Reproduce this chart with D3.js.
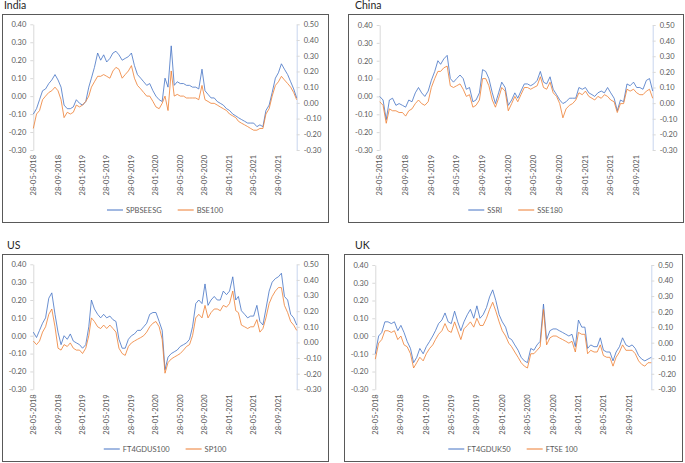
<!DOCTYPE html>
<html><head><meta charset="utf-8">
<script src="https://cdn.jsdelivr.net/npm/d3@7"></script>
<style>body{margin:0;background:#fff}svg{display:block}</style>
</head><body><svg id="c" width="685" height="463"></svg>
<script>
const dates = ["2018-05-28","2018-06-13","2018-06-28","2018-07-13","2018-07-28","2018-08-13","2018-08-28","2018-09-13","2018-09-28","2018-10-13",
"2018-10-28","2018-11-13","2018-11-28","2018-12-13","2018-12-28","2019-01-13","2019-01-28","2019-02-13","2019-02-28","2019-03-13",
"2019-03-28","2019-04-13","2019-04-28","2019-05-13","2019-05-28","2019-06-13","2019-06-28","2019-07-13","2019-07-28","2019-08-13",
"2019-08-28","2019-09-13","2019-09-28","2019-10-13","2019-10-28","2019-11-13","2019-11-28","2019-12-13","2019-12-28","2020-01-13",
"2020-01-28","2020-02-13","2020-02-28","2020-03-13","2020-03-28","2020-04-13","2020-04-28","2020-05-13","2020-05-28","2020-06-13",
"2020-06-28","2020-07-13","2020-07-28","2020-08-13","2020-08-28","2020-09-13","2020-09-28","2020-10-13","2020-10-28","2020-11-13",
"2020-11-28","2020-12-13","2020-12-28","2021-01-13","2021-01-28","2021-02-13","2021-02-28","2021-03-13","2021-03-28","2021-04-13",
"2021-04-28","2021-05-13","2021-05-28","2021-06-13","2021-06-28","2021-07-13","2021-07-28","2021-08-13","2021-08-28","2021-09-13",
"2021-09-28","2021-10-13","2021-10-28","2021-11-13","2021-11-28","2021-12-13","2021-12-28","2022-01-13"];

const dateTickLabels = ["28-05-2018","28-09-2018","28-01-2019","28-05-2019","28-09-2019","28-01-2020","28-05-2020","28-09-2020","28-01-2021","28-05-2021","28-09-2021"];
const leftTicks = [-0.3,-0.2,-0.1,0,0.1,0.2,0.3,0.4];
const rightTicks = [-0.3,-0.2,-0.1,0,0.1,0.2,0.3,0.4,0.5];

// India: SPBSEESG (left axis), BSE100 (right axis)
const indiaBlue = [-0.10,-0.07,-0.02,0.03,0.04,0.07,0.09,0.12,0.09,0.05,
-0.05,-0.07,-0.07,-0.06,-0.02,-0.04,-0.05,-0.03,0.05,0.10,
0.16,0.24,0.20,0.23,0.19,0.21,0.24,0.25,0.23,0.20,
0.21,0.22,0.24,0.17,0.12,0.10,0.08,0.06,0.07,0.03,
0.00,-0.02,-0.03,0.10,0.05,0.28,0.06,0.08,0.07,0.07,
0.06,0.06,0.05,0.05,0.04,0.15,0.03,0.01,-0.01,-0.01,
-0.03,-0.04,-0.05,-0.07,-0.08,-0.10,-0.11,-0.12,-0.13,-0.14,
-0.15,-0.15,-0.15,-0.17,-0.16,-0.17,-0.08,-0.05,0.02,0.10,
0.13,0.18,0.15,0.12,0.08,0.04,-0.01];
const indiaOrange = [-0.163,-0.071,-0.049,0.020,0.043,0.066,0.077,0.100,0.077,0.020,
-0.094,-0.060,-0.071,-0.060,-0.014,-0.026,-0.014,0.009,0.043,0.100,
0.134,0.169,0.169,0.180,0.169,0.157,0.203,0.226,0.214,0.157,
0.180,0.203,0.237,0.157,0.111,0.089,0.066,0.043,0.043,0.009,
-0.026,-0.037,-0.003,0.043,-0.049,0.203,0.043,0.054,0.043,0.043,
0.031,0.031,0.031,0.031,0.020,0.111,0.020,0.009,-0.003,-0.003,
-0.014,-0.026,-0.037,-0.049,-0.071,-0.083,-0.094,-0.117,-0.129,-0.140,
-0.151,-0.163,-0.174,-0.174,-0.163,-0.163,-0.071,-0.037,0.043,0.111,
0.134,0.169,0.146,0.123,0.100,0.066,0.020];

// China: SSRI (left axis), SSE180 (right axis)
const chinaBlue = [0.00,-0.02,-0.13,-0.02,-0.01,-0.05,-0.04,-0.05,-0.06,-0.02,
-0.03,0.02,0.05,0.02,0.00,0.03,0.09,0.14,0.20,0.18,
0.21,0.23,0.10,0.08,0.10,0.12,0.10,0.04,0.05,-0.03,
-0.02,0.02,0.15,0.14,0.10,0.02,-0.04,0.02,0.08,0.05,
-0.05,-0.02,0.02,-0.01,0.03,0.07,0.07,0.06,0.07,0.09,
0.14,0.08,0.07,0.11,0.04,0.01,-0.02,-0.04,-0.03,-0.01,
-0.01,-0.01,0.05,0.04,0.05,0.02,0.01,0.00,0.02,0.03,
0.02,0.05,0.02,-0.01,-0.08,-0.02,-0.03,0.07,0.06,0.08,
0.05,0.05,0.04,0.09,0.10,0.03];
const chinaOrange = [0.009,-0.014,-0.129,-0.037,-0.049,-0.049,-0.060,-0.060,-0.083,-0.049,
-0.037,-0.003,0.020,-0.003,-0.014,0.009,0.100,0.157,0.203,0.203,
0.226,0.237,0.111,0.100,0.111,0.123,0.089,0.043,0.054,-0.026,
-0.014,0.020,0.157,0.157,0.111,0.020,-0.026,0.031,0.100,0.077,
-0.049,-0.003,0.043,0.009,0.054,0.100,0.100,0.089,0.100,0.111,
0.169,0.100,0.089,0.134,0.066,0.043,-0.003,-0.094,-0.037,-0.014,
-0.003,0.020,0.066,0.054,0.077,0.043,0.031,0.020,0.043,0.031,
0.054,0.043,0.020,0.009,-0.060,-0.003,-0.003,0.089,0.077,0.089,
0.066,0.054,0.054,0.077,0.089,0.031];

// US: FT4GDUS100 (left axis), SP100 (right axis)
const usBlue = [0.02,-0.01,0.03,0.07,0.10,0.21,0.24,0.12,0.02,-0.05,
0.00,-0.02,0.01,-0.03,-0.04,-0.05,-0.07,-0.05,0.05,0.20,
0.15,0.12,0.10,0.12,0.10,0.11,0.09,0.08,-0.02,-0.07,
-0.07,-0.02,0.00,0.01,0.03,0.03,0.05,0.07,0.12,0.13,
0.13,0.08,0.03,-0.19,-0.12,-0.10,-0.09,-0.08,-0.06,-0.05,
-0.04,-0.02,0.05,0.18,0.20,0.18,0.29,0.17,0.20,0.22,
0.20,0.20,0.25,0.23,0.25,0.33,0.20,0.22,0.14,0.12,
0.10,0.11,0.11,0.17,0.08,0.06,0.15,0.25,0.30,0.32,
0.33,0.35,0.22,0.20,0.12,0.10,0.06];
const usOrange = [0.009,-0.014,0.009,0.066,0.100,0.180,0.214,0.100,-0.037,-0.049,
-0.014,-0.026,-0.003,-0.037,-0.049,-0.049,-0.071,-0.037,0.043,0.157,
0.134,0.100,0.089,0.111,0.089,0.111,0.089,0.066,-0.037,-0.071,
-0.083,-0.026,-0.003,0.009,0.020,0.031,0.043,0.066,0.100,0.123,
0.134,0.100,0.020,-0.197,-0.129,-0.106,-0.094,-0.083,-0.071,-0.049,
-0.026,-0.014,0.043,0.157,0.180,0.157,0.237,0.157,0.191,0.214,
0.214,0.203,0.237,0.226,0.249,0.329,0.203,0.191,0.111,0.100,
0.089,0.100,0.100,0.146,0.066,0.089,0.157,0.249,0.294,0.329,
0.351,0.351,0.237,0.191,0.134,0.111,0.077];

// UK: FT4GDUK50 (left axis), FTSE 100 (right axis)
const ukBlue = [-0.10,0.00,0.02,0.08,0.08,0.07,0.08,0.03,0.06,0.02,
-0.03,-0.07,-0.15,-0.12,-0.07,-0.10,-0.06,-0.03,0.00,0.03,
0.07,0.09,0.13,0.08,0.07,0.14,0.08,0.03,0.08,0.12,
0.15,0.10,0.17,0.10,0.12,0.16,0.22,0.26,0.20,0.12,
0.08,0.05,-0.01,-0.02,-0.05,-0.08,-0.12,-0.14,-0.15,-0.07,
-0.08,-0.05,-0.03,0.18,-0.02,0.03,0.04,0.04,0.03,0.02,
0.01,0.00,0.01,-0.06,0.09,0.05,0.05,-0.07,-0.05,-0.06,
-0.06,-0.01,-0.08,-0.09,-0.09,-0.14,-0.09,-0.06,-0.01,-0.05,
-0.06,-0.05,-0.07,-0.11,-0.13,-0.14,-0.13,-0.12];
const ukOrange = [-0.106,-0.003,0.020,0.077,0.077,0.066,0.077,0.020,0.043,-0.014,
-0.026,-0.071,-0.163,-0.129,-0.094,-0.117,-0.071,-0.037,-0.014,0.020,
0.054,0.077,0.123,0.077,0.066,0.134,0.077,0.020,0.089,0.111,
0.134,0.100,0.157,0.111,0.111,0.157,0.214,0.260,0.203,0.134,
0.077,0.043,-0.003,-0.026,-0.060,-0.094,-0.129,-0.151,-0.163,-0.071,
-0.071,-0.049,-0.026,0.214,-0.014,0.031,0.043,0.043,0.031,0.020,
0.009,-0.003,0.009,-0.060,0.066,0.054,0.054,-0.071,-0.049,-0.060,
-0.060,-0.014,-0.083,-0.094,-0.094,-0.151,-0.094,-0.060,-0.014,-0.049,
-0.049,-0.049,-0.071,-0.117,-0.140,-0.151,-0.129,-0.129];

const BLUE = "#4472C4", ORANGE = "#ED7D31";
const FONT = "Lato, 'Liberation Sans', sans-serif";
const parse = d3.timeParse("%Y-%m-%d");
const parseTick = d3.timeParse("%d-%m-%Y");

const panels = [
  {title:"India", names:["SPBSEESG","BSE100"], s1:indiaBlue, s2:indiaOrange,
   tx:4, ty:9, box:[2,14,328,222], l:33.3, r:296.7, t:24.3, b:150, ly:210},
  {title:"China", names:["SSRI","SSE180"], s1:chinaBlue, s2:chinaOrange,
   tx:355, ty:9, box:[348,14,683,222], l:379.7, r:652.7, t:25, b:150, ly:210},
  {title:"US", names:["FT4GDUS100","SP100"], s1:usBlue, s2:usOrange,
   tx:7, ty:249, box:[2,254,328,461], l:33.3, r:296.7, t:264.3, b:389.3, ly:449},
  {title:"UK", names:["FT4GDUK50","FTSE 100"], s1:ukBlue, s2:ukOrange,
   tx:355, ty:249, box:[344,254,682,461], l:375.3, r:651.3, t:265, b:389.3, ly:449}
];

const svg = d3.select("#c");
svg.append("rect").attr("width",685).attr("height",463).attr("fill","#fff");

panels.forEach(p => {
  const g = svg.append("g");
  g.append("text").attr("x",p.tx).attr("y",p.ty).text(p.title)
    .attr("font-family",FONT).attr("font-size","10.5px").attr("fill","#262626");
  g.append("rect").attr("x",p.box[0]+0.5).attr("y",p.box[1]+0.5)
    .attr("width",p.box[2]-p.box[0]).attr("height",p.box[3]-p.box[1])
    .attr("fill","none").attr("stroke","#595959").attr("stroke-width",1);

  const n = Math.max(p.s1.length, p.s2.length);
  const x = d3.scaleTime().domain([parse(dates[0]), parse(dates[n-1])]).range([p.l, p.r]);
  const yL = d3.scaleLinear().domain([-0.3,0.4]).range([p.b, p.t]);
  const yR = d3.scaleLinear().domain([-0.3,0.5]).range([p.b, p.t]);

  const fmt = d => d.toFixed(2);
  const ax1 = g.append("g").attr("transform",`translate(${p.l},0)`)
    .call(d3.axisLeft(yL).tickValues(leftTicks).tickFormat(fmt).tickSize(3).tickSizeOuter(0).tickPadding(4));
  const ax2 = g.append("g").attr("transform",`translate(${p.r},0)`)
    .call(d3.axisRight(yR).tickValues(rightTicks).tickFormat(fmt).tickSize(3).tickSizeOuter(0).tickPadding(4));
  [ax1, ax2].forEach((a,i) => {
    a.attr("font-family",FONT).attr("font-size","7.5px");
    a.select(".domain").attr("stroke", i===0 ? "#D9D9D9" : "#C9D6EE");
    a.selectAll(".tick line").attr("stroke","#D9D9D9");
    a.selectAll(".tick text").attr("fill","#595959");
  });

  // date labels (rotated)
  const xa = g.append("g");
  xa.selectAll("text").data(dateTickLabels).join("text")
    .attr("transform", d => `translate(${x(parseTick(d))},${p.b+5}) rotate(-90)`)
    .attr("text-anchor","end").attr("dy","0.33em")
    .attr("font-family",FONT).attr("font-size","7.5px").attr("fill","#595959")
    .text(d => d);

  const line1 = d3.line().x(d => x(d[0])).y(d => yL(d[1]));
  const line2 = d3.line().x(d => x(d[0])).y(d => yR(d[1]));
  g.append("path").datum(p.s1.map((v,i) => [parse(dates[i]), v]))
    .attr("d", line1).attr("fill","none").attr("stroke",BLUE).attr("stroke-width",0.8).attr("stroke-linejoin","round");
  g.append("path").datum(p.s2.map((v,i) => [parse(dates[i]), v]))
    .attr("d", line2).attr("fill","none").attr("stroke",ORANGE).attr("stroke-width",0.8).attr("stroke-linejoin","round");

  // legend centered in box
  const lg = g.append("g");
  const colors = [BLUE, ORANGE];
  let cx = 0;
  p.names.forEach((nm,i) => {
    lg.append("line").attr("x1",cx).attr("x2",cx+16).attr("y1",0).attr("y2",0)
      .attr("stroke",colors[i]).attr("stroke-width",1);
    const t = lg.append("text").attr("x",cx+19).attr("y",0).attr("dy","0.35em")
      .attr("font-family",FONT).attr("font-size","7.5px").attr("fill","#595959").text(nm);
    cx += 19 + t.node().getComputedTextLength() + 16;
  });
  const total = cx - 16;
  const mid = (p.box[0]+p.box[2])/2;
  lg.attr("transform",`translate(${mid - total/2},${p.ly})`);
});
</script></body></html>
